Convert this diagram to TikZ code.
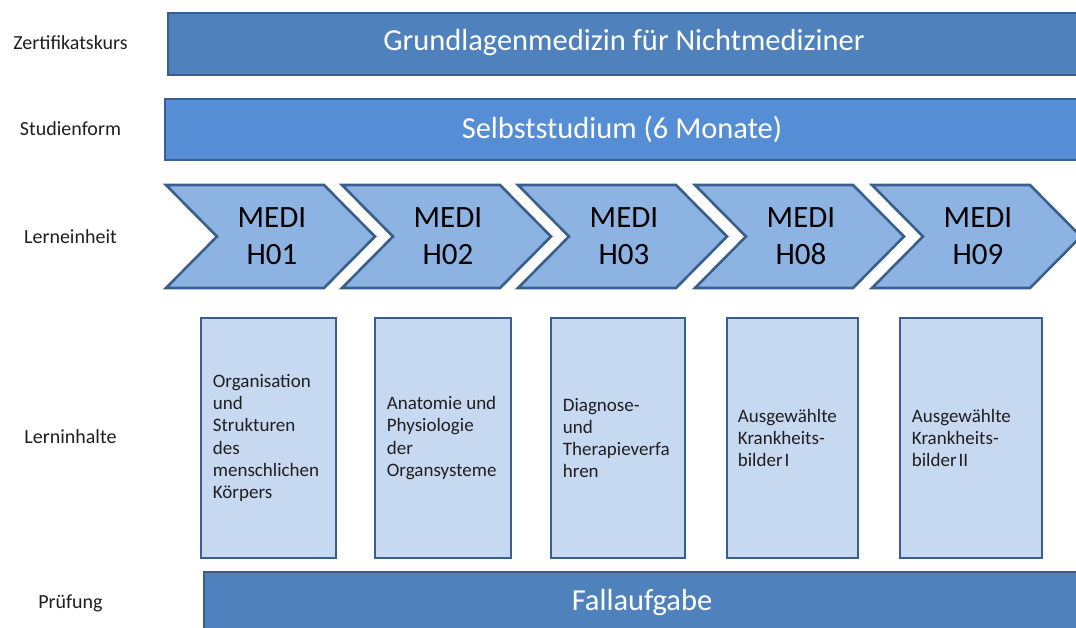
\documentclass[tikz,border=0pt]{standalone}
\usepackage{fontspec}
\setmainfont{Carlito}
\definecolor{edgec}{HTML}{3A5F8C}
\definecolor{barA}{HTML}{4F81BD}
\definecolor{barB}{HTML}{558ED5}
\definecolor{chevc}{HTML}{8DB3E2}
\definecolor{boxc}{HTML}{C6D9F1}
\definecolor{txtc}{HTML}{1F1F1F}
\begin{document}
\begin{tikzpicture}[x=1pt,y=-1pt,
  bar/.style={draw=edgec, line width=2.6pt, fill=#1},
  bartext/.style={text=white, font=\fontsize{30.5}{34}\selectfont, inner sep=0pt},
  chev/.style={draw=edgec, line width=2.6pt, fill=chevc, line join=miter},
  chevtext/.style={text=black, align=center, font=\fontsize{31}{37}\selectfont, inner sep=0pt},
  cbox/.style={draw=edgec, line width=2.6pt, fill=boxc, minimum height=240pt, inner sep=0pt},
  ctext/.style={anchor=west, align=left, text=txtc, inner sep=0pt,
    font=\fontsize{19}{22.3}\selectfont},
  rowlabel/.style={text=txtc, font=\fontsize{20}{22}\selectfont, inner sep=0pt}]
\clip (0,0) rectangle (1076,628);
\fill[white] (0,0) rectangle (1076,628);

% row labels
\node[rowlabel] (l1) at (70.5,43) {Zertifikatskurs};
\node[rowlabel] (l2) at (70.5,129) {Studienform};
\node[rowlabel] (l3) at (70.5,237) {Lerneinheit};
\node[rowlabel] (l4) at (70.5,437) {Lerninhalte};
\node[rowlabel] (l5) at (70.5,603) {Prüfung};

% bars
\draw[bar=barA] (168,13) rectangle (1095,75);
\node[bartext] (kurs) at (624,43) {Grundlagenmedizin für Nichtmediziner};
\draw[bar=barB] (165,99) rectangle (1095,160);
\node[bartext] (form) at (622,129) {Selbststudium (6 Monate)};
\draw[bar=barA] (204,572) rectangle (1095,650);
\node[bartext] (pruef) at (642,603) {Fallaufgabe};

% chevrons
\foreach \L/\nm/\code in {166/c1/H01, 342/c2/H02, 518/c3/H03, 695/c4/H08, 872/c5/H09}{
  \draw[chev] (\L,185) -- ++(158,0) -- ++(51,51.5) -- ++(-51,51.5) -- ++(-158,0) -- ++(51,-51.5) -- cycle;
  \node[chevtext] (\nm) at (\L+106,236) {MEDI\\\code};
}

% content boxes
\node[cbox, minimum width=135pt] (b1) at (268.5,438) {};
\node[cbox, minimum width=136pt] (b2) at (443,438) {};
\node[cbox, minimum width=134pt] (b3) at (618,438) {};
\node[cbox, minimum width=131pt] (b4) at (792.5,438) {};
\node[cbox, minimum width=142pt] (b5) at (971,438) {};
\node[ctext] (t1) at ([xshift=13pt]b1.west) {Organisation\\und\\Strukturen\\des\\menschlichen\\Körpers};
\node[ctext] (t2) at ([xshift=13pt]b2.west) {Anatomie und\\Physiologie\\der\\Organsysteme};
\node[ctext] (t3) at ([xshift=13pt]b3.west) {Diagnose-\\und\\Therapieverfa\\hren};
\node[ctext] (t4) at ([xshift=12pt]b4.west) {Ausgewählte\\Krankheits-\\bilder\hspace{0.1em}I};
\node[ctext] (t5) at ([xshift=13pt]b5.west) {Ausgewählte\\Krankheits-\\bilder\hspace{0.1em}II};
\end{tikzpicture}
\end{document}
